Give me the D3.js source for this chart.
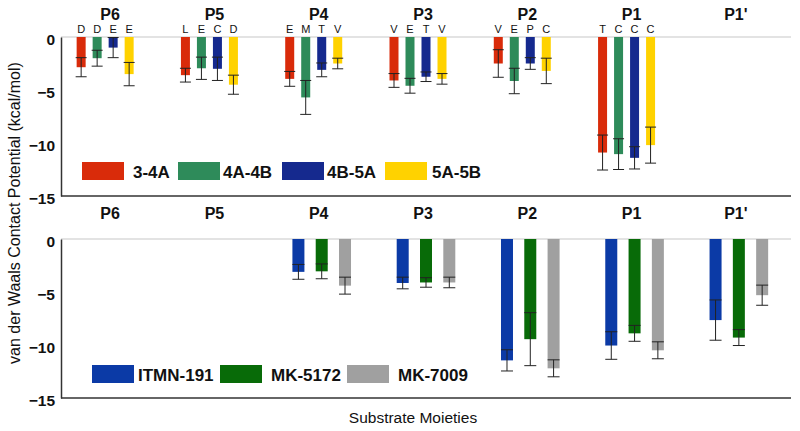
<!DOCTYPE html>
<html>
<head>
<meta charset="utf-8">
<script src="https://cdn.jsdelivr.net/npm/d3@7"></script>
<style>
  html, body { margin: 0; padding: 0; background: #fff; }
  svg { display: block; font-family: "Liberation Sans", Arial, sans-serif; }
</style>
</head>
<body>
<svg id="chart" width="800" height="431"></svg>
<script>
// ---------- data ----------
const categories = ["P6", "P5", "P4", "P3", "P2", "P1", "P1'"];
const yTicks = [0, -5, -10, -15];

const topSeries = ["3-4A", "4A-4B", "4B-5A", "5A-5B"];
const top34A  = [-2.85, -3.6, -3.95, -4.1, -2.5, -10.9, null];
const top4A4B = [-2.0, -2.95, -5.7, -4.6, -4.15, -11.05, null];
const top4B5A = [-1.0, -3.0, -3.1, -3.75, -2.5, -11.4, null];
const top5A5B = [-3.5, -4.5, -2.5, -3.95, -3.2, -10.2, null];
const topErr34A  = [0.9, 0.65, 0.7, 0.65, 1.3, 1.65, null];
const topErr4A4B = [0.75, 1.05, 1.6, 0.7, 1.2, 1.45, null];
const topErr4B5A = [0.95, 1.1, 0.65, 0.45, 0.55, 1.05, null];
const topErr5A5B = [1.1, 0.9, 0.5, 0.5, 1.2, 1.7, null];
const res34A  = ["D", "L", "E", "V", "V", "T", null];
const res4A4B = ["D", "E", "M", "E", "E", "C", null];
const res4B5A = ["E", "C", "T", "T", "P", "C", null];
const res5A5B = ["E", "D", "V", "V", "C", "C", null];

const botSeries = ["ITMN-191", "MK-5172", "MK-7009"];
const botITMN   = [null, null, -3.1, -4.15, -11.45, -10.05, -7.65];
const botMK5172 = [null, null, -3.05, -4.1, -9.45, -8.9, -9.3];
const botMK7009 = [null, null, -4.4, -4.1, -12.2, -10.5, -5.3];
const botErrITMN   = [null, null, 0.7, 0.55, 1.0, 1.3, 1.9];
const botErrMK5172 = [null, null, 0.7, 0.45, 2.5, 0.75, 0.75];
const botErrMK7009 = [null, null, 0.8, 0.5, 0.8, 0.8, 0.95];

const topColors = ["#d92b0a", "#2e8b5a", "#15298e", "#ffd200"];
const botColors = ["#0b3aa6", "#086b08", "#a0a0a0"];

// ---------- build tables ----------
const topVals = [top34A, top4A4B, top4B5A, top5A5B];
const topErrs = [topErr34A, topErr4A4B, topErr4B5A, topErr5A5B];
const topRes  = [res34A, res4A4B, res4B5A, res5A5B];
const botVals = [botITMN, botMK5172, botMK7009];
const botErrs = [botErrITMN, botErrMK5172, botErrMK7009];

function rows(seriesNames, vals, errs, res) {
  const out = [];
  seriesNames.forEach((s, si) => {
    categories.forEach((c, ci) => {
      if (vals[si][ci] == null) return;
      out.push({ series: s, cat: c, si, value: vals[si][ci], err: errs[si][ci],
                 res: res ? res[si][ci] : null });
    });
  });
  return out;
}
const topData = rows(topSeries, topVals, topErrs, topRes);
const botData = rows(botSeries, botVals, botErrs, null);

// ---------- layout ----------
const svg = d3.select("#chart");
const axisX = 61, rightX = 791;
const x = d3.scaleBand().domain(categories).range([58, 788]);

const panels = [
  { data: topData, series: topSeries, colors: topColors, y: d3.scaleLinear().domain([-15, 0]).range([196, 37]),
    offset: -5, inner: d3.scaleBand().domain(topSeries).range([-28.5, 28.5]).paddingInner(0.4375),
    capW: 11, labelY: 19.5 },
  { data: botData, series: botSeries, colors: botColors, y: d3.scaleLinear().domain([-15, 0]).range([398, 239]),
    offset: 3, inner: d3.scaleBand().domain(botSeries).range([-29.3, 29.3]).paddingInner(0.485),
    capW: 12, labelY: 218.5 }
];

panels.forEach((p, pi) => {
  const g = svg.append("g");
  const y = p.y;
  const cx = d => x(d.cat) + x.bandwidth() / 2 + p.offset + p.inner(d.series) + p.inner.bandwidth() / 2;

  // zero line
  g.append("line").attr("x1", axisX).attr("x2", rightX)
    .attr("y1", y(0)).attr("y2", y(0)).attr("stroke", "#c8c8c8").attr("stroke-width", 1.2);

  // category labels
  g.selectAll(".cat").data(categories).enter().append("text")
    .attr("x", d => x(d) + x.bandwidth() / 2)
    .attr("y", p.labelY)
    .attr("text-anchor", "middle")
    .attr("font-size", 16).attr("font-weight", "bold").attr("fill", "#111")
    .text(d => d);

  // bars
  g.selectAll(".bar").data(p.data).enter().append("rect")
    .attr("x", d => cx(d) - p.inner.bandwidth() / 2)
    .attr("width", p.inner.bandwidth())
    .attr("y", y(0))
    .attr("height", d => y(d.value) - y(0))
    .attr("fill", d => p.colors[d.si]);

  // error bars
  const eb = g.selectAll(".err").data(p.data).enter().append("g")
    .attr("stroke", "#222").attr("stroke-width", 1);
  eb.append("line")
    .attr("x1", cx).attr("x2", cx)
    .attr("y1", d => y(d.value + d.err)).attr("y2", d => y(d.value - d.err));
  eb.append("line")
    .attr("x1", d => cx(d) - p.capW / 2).attr("x2", d => cx(d) + p.capW / 2)
    .attr("y1", d => y(d.value + d.err)).attr("y2", d => y(d.value + d.err));
  eb.append("line")
    .attr("x1", d => cx(d) - p.capW / 2).attr("x2", d => cx(d) + p.capW / 2)
    .attr("y1", d => y(d.value - d.err)).attr("y2", d => y(d.value - d.err));

  // residue letters (top panel)
  g.selectAll(".res").data(p.data.filter(d => d.res)).enter().append("text")
    .attr("x", cx).attr("y", 33)
    .attr("text-anchor", "middle")
    .attr("font-size", 11).attr("fill", "#111")
    .text(d => d.res);

  // y axis
  const ax = g.append("g").attr("transform", `translate(${axisX},0)`)
    .call(d3.axisLeft(y).tickValues(yTicks).tickSize(0).tickPadding(6).tickFormat(d3.format("d")));
  ax.select(".domain").attr("stroke", "#333").attr("stroke-width", 1.5);
  ax.selectAll("text").attr("font-size", 15.5).attr("font-weight", "bold")
    .attr("font-family", "Liberation Sans, Arial, sans-serif").attr("fill", "#111").attr("dy", "0.5em");

  // bottom line
  g.append("line").attr("x1", axisX).attr("x2", rightX)
    .attr("y1", y(-15)).attr("y2", y(-15)).attr("stroke", "#333").attr("stroke-width", 1.5);
});

// ---------- legends ----------
const topLegBoxX = [82, 178, 282, 385], topLegTextX = [133, 223, 327, 432];
const topLeg = svg.append("g");
topSeries.forEach((s, i) => {
  topLeg.append("rect").attr("x", topLegBoxX[i]).attr("y", 162).attr("width", 42).attr("height", 18)
    .attr("fill", topColors[i]);
  topLeg.append("text").attr("x", topLegTextX[i]).attr("y", 177.5)
    .attr("font-size", 17).attr("font-weight", "bold").attr("fill", "#111").text(s);
});
const botLegBoxX = [92, 220, 347], botLegTextX = [138, 271, 398];
const botLeg = svg.append("g");
botSeries.forEach((s, i) => {
  botLeg.append("rect").attr("x", botLegBoxX[i]).attr("y", 365).attr("width", 42).attr("height", 18)
    .attr("fill", botColors[i]);
  botLeg.append("text").attr("x", botLegTextX[i]).attr("y", 380.5)
    .attr("font-size", 17).attr("font-weight", "bold").attr("fill", "#111").text(s);
});

// ---------- axis titles ----------
svg.append("text")
  .attr("transform", "translate(20,213) rotate(-90)")
  .attr("text-anchor", "middle").attr("font-size", 16).attr("fill", "#111")
  .text("van der Waals Contact Potential (kcal/mol)");
svg.append("text")
  .attr("x", 413).attr("y", 423)
  .attr("text-anchor", "middle").attr("font-size", 15.5).attr("fill", "#111")
  .text("Substrate Moieties");
</script>
</body>
</html>
